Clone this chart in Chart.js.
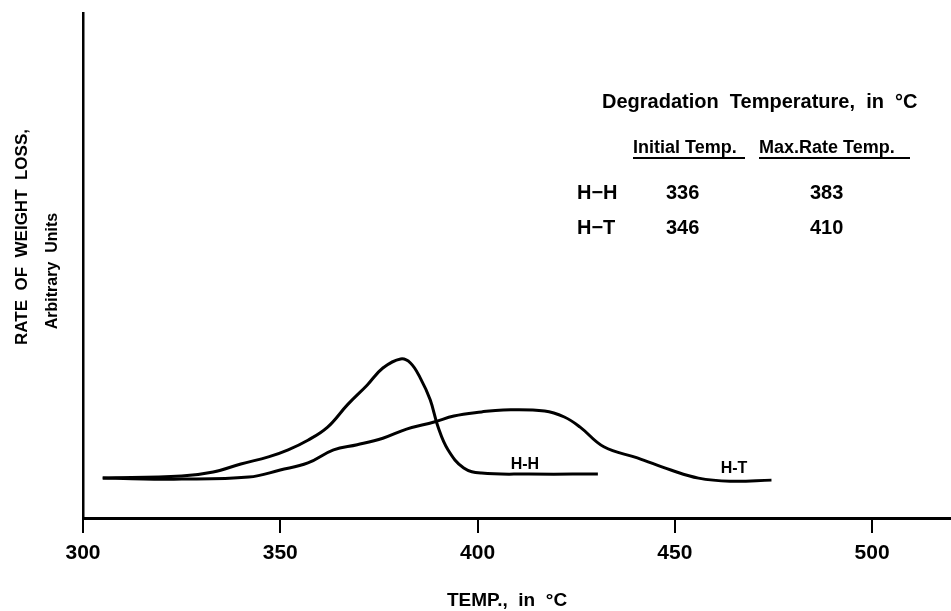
<!DOCTYPE html>
<html>
<head>
<meta charset="utf-8">
<title>Rate of weight loss</title>
<script src="https://cdn.jsdelivr.net/npm/chart.js@4"></script>
<style>
    body { margin: 0; background: #fff; }
    #grafico { display: block; }
</style>
</head>
<body>
<canvas id="grafico" width="951" height="611"></canvas>
<script>
// temperatures (degC) and rate of weight loss (arbitrary units)
var tempHH = [305, 325, 333, 340, 347, 352, 357, 362, 367, 372, 376, 380.5, 383, 385.5, 388, 390, 392.5, 396.5, 401, 413, 430.5];
var rateHH = [7.9, 8.3, 9.1, 10.7, 12.1, 13.5, 15.4, 18.0, 22.4, 26.3, 29.7, 31.5, 30.7, 27.7, 23.4, 18.0, 13.5, 9.9, 8.9, 8.7, 8.7];

var tempHT = [305, 325, 342, 350, 357, 363.5, 369.5, 376, 382, 389, 394, 401, 406.5, 417, 422, 426, 432, 440.5, 449, 456, 464, 474.5];
var rateHT = [7.9, 7.7, 8.1, 9.5, 10.9, 13.5, 14.5, 15.8, 17.6, 19.0, 20.2, 21.0, 21.4, 21.2, 20.0, 18.0, 14.1, 11.9, 9.5, 7.9, 7.3, 7.5];

var xTicks = [300, 350, 400, 450, 500];

// curve labels, placed in data coordinates
var curveNames = ['H-H', 'H-T'];
var curveLabelTemp = [412, 465];
var curveLabelRate = [10.5, 9.7];

// degradation temperature table
var initialTemps = [336, 346];
var maxRateTemps = [383, 410];

function toPoints(xs, ys) {
    var pts = [];
    for (var i = 0; i < xs.length; i++) {
        pts.push({ x: xs[i], y: ys[i] });
    }
    return pts;
}

var textosPlugin = {
    id: 'textos',
    afterDraw: function (chart) {
        var ctx = chart.ctx;
        var xs = chart.scales.x;
        var ys = chart.scales.y;
        ctx.save();
        ctx.fillStyle = '#000';
        ctx.strokeStyle = '#000';
        ctx.textBaseline = 'middle';

        // y axis titles
        ctx.save();
        ctx.translate(22, 237);
        ctx.rotate(-Math.PI / 2);
        ctx.textAlign = 'center';
        ctx.font = 'bold 17px "Liberation Sans"';
        ctx.fillText('RATE  OF  WEIGHT  LOSS,', 0, 0);
        ctx.restore();

        ctx.save();
        ctx.translate(53, 271);
        ctx.rotate(-Math.PI / 2);
        ctx.textAlign = 'center';
        ctx.font = 'bold 16px "Liberation Sans"';
        ctx.fillText('Arbitrary  Units', 0, 0);
        ctx.restore();

        // x axis title
        ctx.textAlign = 'center';
        ctx.font = 'bold 19px "Liberation Sans"';
        ctx.fillText('TEMP.,  in  °C', 507, 601);

        // labels on the curves
        ctx.font = 'bold 16px "Liberation Sans"';
        for (var i = 0; i < curveNames.length; i++) {
            ctx.fillText(curveNames[i], xs.getPixelForValue(curveLabelTemp[i]), ys.getPixelForValue(curveLabelRate[i]));
        }

        // table
        ctx.textAlign = 'left';
        ctx.font = 'bold 20px "Liberation Sans"';
        ctx.fillText('Degradation  Temperature,  in  °C', 602, 102, 331);

        ctx.font = 'bold 18px "Liberation Sans"';
        ctx.fillText('Initial Temp.', 633, 148, 112);
        ctx.fillText('Max.Rate Temp.', 759, 148, 151);
        ctx.lineWidth = 2;
        ctx.beginPath();
        ctx.moveTo(633, 158); ctx.lineTo(745, 158);
        ctx.moveTo(759, 158); ctx.lineTo(910, 158);
        ctx.stroke();

        ctx.font = 'bold 20px "Liberation Sans"';
        for (var j = 0; j < curveNames.length; j++) {
            var yRow = 193 + j * 35;
            ctx.fillText(curveNames[j].replace('-', '−'), 577, yRow, 46);
            ctx.fillText(String(initialTemps[j]), 666, yRow);
            ctx.fillText(String(maxRateTemps[j]), 810, yRow);
        }
        ctx.restore();
    }
};

var ctx = document.getElementById('grafico').getContext('2d');
new Chart(ctx, {
    type: 'line',
    data: {
        datasets: [{
            label: 'H-H',
            data: toPoints(tempHH, rateHH),
            borderColor: '#000',
            borderWidth: 3,
            pointRadius: 0,
            tension: 0.4,
            fill: false
        }, {
            label: 'H-T',
            data: toPoints(tempHT, rateHT),
            borderColor: '#000',
            borderWidth: 3,
            pointRadius: 0,
            tension: 0.4,
            fill: false
        }]
    },
    options: {
        responsive: false,
        animation: false,
        layout: { padding: { top: 13, right: 0, left: 0, bottom: 0 } },
        plugins: {
            legend: { display: false },
            tooltip: { enabled: false }
        },
        scales: {
            x: {
                type: 'linear',
                min: 300,
                max: 520,
                afterBuildTicks: function (scale) {
                    scale.ticks = xTicks.map(function (v) { return { value: v }; });
                },
                afterFit: function (scale) { scale.height = 93; },
                border: { color: '#000', width: 3 },
                grid: {
                    drawOnChartArea: false,
                    color: '#000',
                    lineWidth: 2,
                    tickLength: 15
                },
                ticks: {
                    color: '#000',
                    padding: 8,
                    maxRotation: 0,
                    font: { family: 'Liberation Sans', size: 21, weight: 'bold' }
                }
            },
            y: {
                min: 0,
                max: 100,
                afterFit: function (scale) { scale.width = 83; },
                border: { color: '#000', width: 2.5 },
                grid: { display: false },
                ticks: { display: false }
            }
        }
    },
    plugins: [textosPlugin]
});
</script>
</body>
</html>
